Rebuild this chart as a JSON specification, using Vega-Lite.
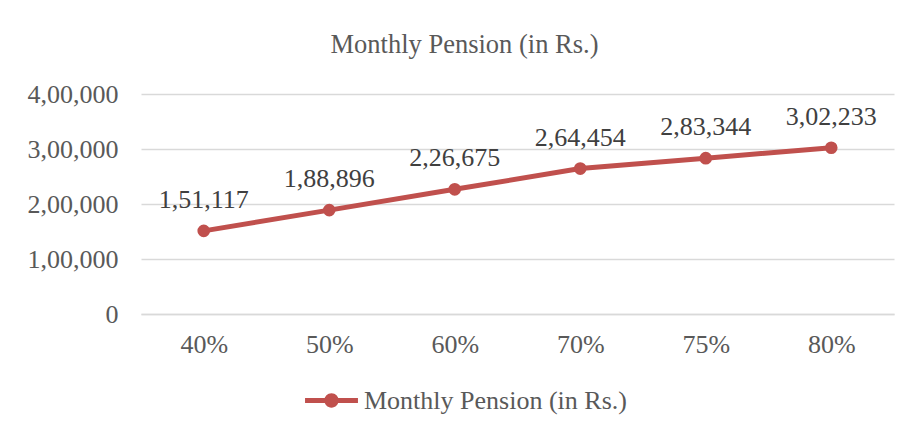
{
  "$schema": "https://vega.github.io/schema/vega-lite/v6.json",
  "width": 753,
  "height": 220,
  "autosize": {"type": "none"},
  "padding": {"left": 141, "top": 94, "right": 16, "bottom": 118},
  "background": "white",
  "title": {
    "text": "Monthly Pension (in Rs.)",
    "font": "Liberation Serif",
    "fontSize": 26.5,
    "fontWeight": "normal",
    "color": "#595959",
    "dx": -53,
    "offset": -4,
    "baseline": "bottom"
  },
  "config": {
    "view": {"stroke": null},
    "axis": {
      "labelFont": "Liberation Serif",
      "labelFontSize": 26,
      "labelColor": "#595959",
      "ticks": false,
      "title": null
    },
    "legend": {
      "labelFont": "Liberation Serif",
      "labelFontSize": 26,
      "labelColor": "#595959",
      "labelLimit": 400
    }
  },
  "data": {
    "values": [
      {"pct": "40%", "pension": 151117, "label": "1,51,117"},
      {"pct": "50%", "pension": 188896, "label": "1,88,896"},
      {"pct": "60%", "pension": 226675, "label": "2,26,675"},
      {"pct": "70%", "pension": 264454, "label": "2,64,454"},
      {"pct": "75%", "pension": 283344, "label": "2,83,344"},
      {"pct": "80%", "pension": 302233, "label": "3,02,233"}
    ]
  },
  "encoding": {
    "x": {
      "field": "pct",
      "type": "ordinal",
      "sort": null,
      "scale": {"type": "point", "padding": 0.5},
      "axis": {
        "labelAngle": 0,
        "domain": true,
        "domainColor": "#D9D9D9",
        "domainWidth": 1.5,
        "grid": false,
        "labelPadding": 17
      }
    },
    "y": {
      "field": "pension",
      "type": "quantitative",
      "scale": {"domain": [0, 400000], "nice": false},
      "axis": {
        "values": [0, 100000, 200000, 300000, 400000],
        "domain": false,
        "grid": true,
        "gridColor": "#D9D9D9",
        "gridWidth": 1.5,
        "labelPadding": 23,
        "labelExpr": "datum.value == 0 ? '0' : format(datum.value / 100000, 'd') + ',00,000'"
      }
    }
  },
  "layer": [
    {
      "mark": {
        "type": "line",
        "strokeWidth": 5,
        "point": {"filled": true, "size": 160, "opacity": 1}
      },
      "encoding": {
        "color": {
          "datum": "Monthly Pension (in Rs.)",
          "type": "nominal",
          "scale": {"range": ["#C0504D"]},
          "legend": {
            "title": null,
            "orient": "none",
            "legendX": 164,
            "legendY": 280,
            "symbolType": "M-1,-0.09 L1,-0.09 L1,0.09 L-1,0.09 Z M0.27,0 A0.27,0.27 0 1,1 -0.27,0 A0.27,0.27 0 1,1 0.27,0 Z",
            "symbolSize": 2800,
            "symbolFillColor": "#C0504D",
            "symbolStrokeColor": "#C0504D",
            "symbolStrokeWidth": 0,
            "labelOffset": 6
          }
        }
      }
    },
    {
      "mark": {
        "type": "text",
        "font": "Liberation Serif",
        "fontSize": 26,
        "color": "#404040",
        "baseline": "middle",
        "dy": -31
      },
      "encoding": {
        "text": {"field": "label"}
      }
    }
  ]
}
